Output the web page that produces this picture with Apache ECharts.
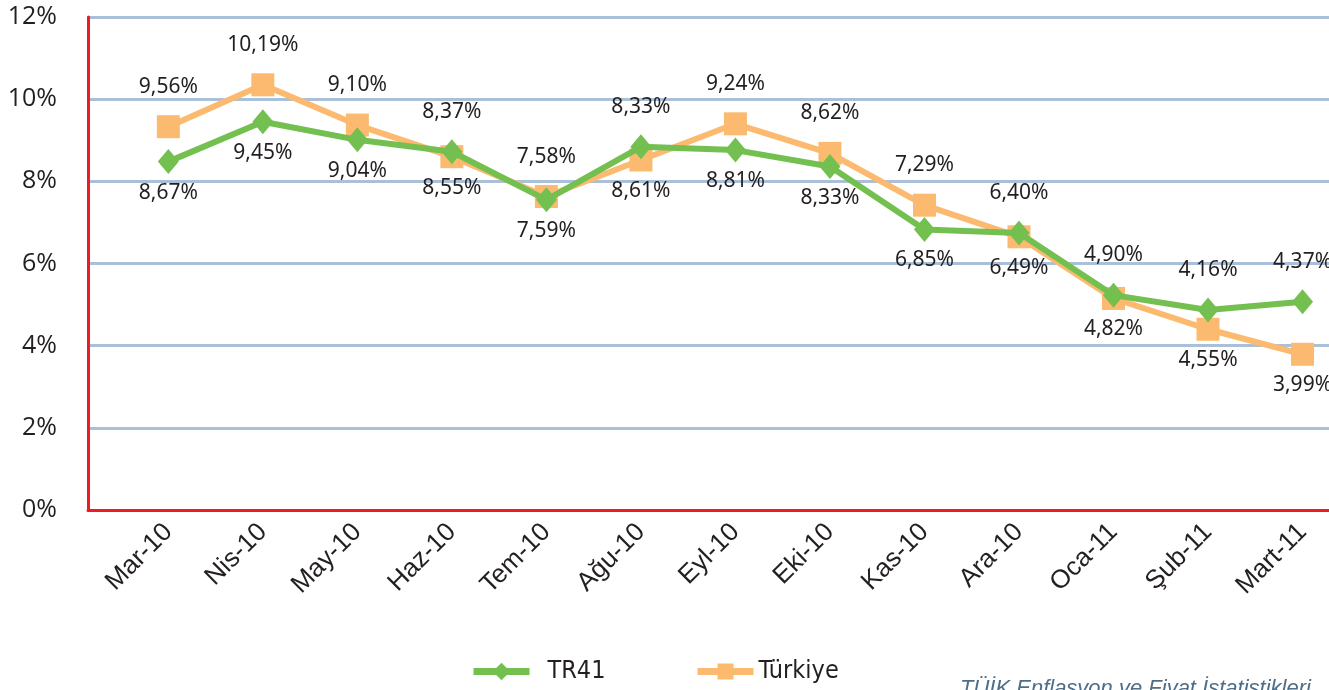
<!DOCTYPE html>
<html>
<head>
<meta charset="utf-8">
<script src="https://cdn.jsdelivr.net/npm/echarts@6/dist/echarts.min.js"></script>
<style>
html,body{margin:0;padding:0;background:#fff;}
#chart{width:1329px;height:690px;}
</style>
</head>
<body>
<div id="chart"></div>
<script>
// ---- data ----
const categories = ['Mar-10','Nis-10','May-10','Haz-10','Tem-10','Ağu-10','Eyl-10','Eki-10','Kas-10','Ara-10','Oca-11','Şub-11','Mart-11'];
const tr41 =    [8.48, 9.45, 9.01, 8.72, 7.55, 8.84, 8.76, 8.36, 6.83, 6.74, 5.23, 4.87, 5.07];
const turkiye = [9.33, 10.35, 9.37, 8.60, 7.63, 8.52, 9.40, 8.68, 7.42, 6.65, 5.15, 4.40, 3.79];
// data label texts as printed on the chart (upper label / lower label at each month)
const upperLabels = ['9,56%','10,19%','9,10%','8,37%','7,58%','8,33%','9,24%','8,62%','7,29%','6,40%','4,90%','4,16%','4,37%'];
const lowerLabels = ['8,67%','9,45%','9,04%','8,55%','7,59%','8,61%','8,81%','8,33%','6,85%','6,49%','4,82%','4,55%','3,99%'];
const yTicks = [0, 2, 4, 6, 8, 10, 12];
const seriesNames = ['TR41', 'Türkiye'];
const sourceText = 'TÜİK Enflasyon ve Fiyat İstatistikleri, ';

// ---- styles ----
const GREEN = '#73bf50';
const ORANGE = '#fbba6f';
const RED = '#ed1c24';
const GRIDC = '#a9c0d8';
const TXT = '#231f20';
const labelFont = {fontFamily: 'Noto Sans', fontSize: 21, color: TXT};

function build(own, other) {
  return own.map((v, i) => {
    const isUpper = v >= other[i];
    return {
      value: [i, v],
      label: {
        show: true,
        position: 'inside',
        offset: isUpper ? [0, -40] : [0, 31],
        formatter: isUpper ? upperLabels[i] : lowerLabels[i],
        ...labelFont
      }
    };
  });
}

const legendText = {fontFamily: 'Liberation Sans Narrow, DejaVu Sans Condensed', fontSize: 25, color: TXT};

const chart = echarts.init(document.getElementById('chart'), null, {renderer: 'canvas'});
chart.setOption({
  animation: false,
  backgroundColor: '#fff',
  grid: {left: 88, right: 0, top: 17, bottom: 180, containLabel: false},
  xAxis: {
    type: 'value',
    min: -0.85,
    max: 12.28,
    axisLine: {show: true, onZero: false, lineStyle: {color: RED, width: 3}},
    axisTick: {show: false},
    splitLine: {show: false},
    axisLabel: {
      customValues: categories.map((c, i) => i),
      formatter: v => categories[Math.round(v)],
      rotate: 45,
      margin: 18,
      fontFamily: 'Liberation Sans',
      fontSize: 26,
      color: TXT
    }
  },
  yAxis: {
    type: 'value',
    min: yTicks[0],
    max: yTicks[yTicks.length - 1],
    interval: 2,
    axisLine: {show: true, onZero: false, lineStyle: {color: RED, width: 3}},
    axisTick: {show: false},
    splitLine: {show: true, lineStyle: {color: GRIDC, width: 3}},
    axisLabel: {
      formatter: '{value}%',
      margin: 31,
      fontFamily: 'Open Sans',
      fontSize: 25,
      color: TXT
    }
  },
  legend: [
    {
      data: [seriesNames[0]],
      left: 470, top: 659, padding: 0,
      itemWidth: 56, itemHeight: 22,
      lineStyle: {width: 7},
      textStyle: {...legendText, padding: [0, 0, 0, 13]}
    },
    {
      data: [seriesNames[1]],
      left: 694, top: 659, padding: 0,
      itemWidth: 56, itemHeight: 20,
      lineStyle: {width: 7},
      textStyle: {...legendText, padding: [0, 0, 0, 0]}
    }
  ],
  graphic: [{
    type: 'text',
    left: 960, top: 678,
    style: {text: sourceText, fontFamily: 'Liberation Sans', fontStyle: 'italic', fontSize: 22, fill: '#4d6f89'}
  }],
  series: [
    {
      name: seriesNames[1],
      type: 'line',
      z: 2,
      data: build(turkiye, tr41),
      symbol: 'rect',
      symbolSize: 23,
      itemStyle: {color: ORANGE},
      lineStyle: {color: ORANGE, width: 6}
    },
    {
      name: seriesNames[0],
      type: 'line',
      z: 3,
      data: build(tr41, turkiye),
      symbol: 'diamond',
      symbolSize: [21, 25],
      itemStyle: {color: GREEN},
      lineStyle: {color: GREEN, width: 6}
    }
  ]
});
</script>
</body>
</html>
